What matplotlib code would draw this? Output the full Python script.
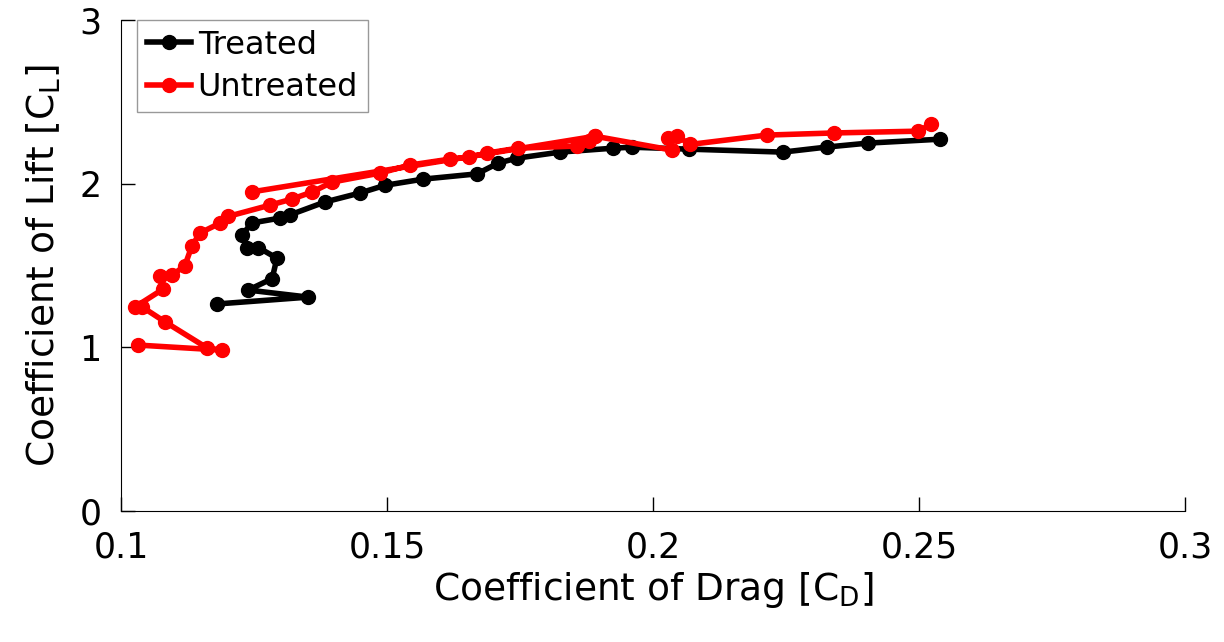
import numpy as np
import matplotlib
matplotlib.use("Agg")
import matplotlib.pyplot as plt

plt.rcParams['font.family'] = ['DejaVu Sans']

# Treated (black)
treated_cd = [0.1180, 0.1352, 0.1239, 0.1284, 0.1293, 0.1258, 0.1237, 0.1227, 0.1246,
              0.1299, 0.1318, 0.1383, 0.1449, 0.1496, 0.1568, 0.1669, 0.1709, 0.1744,
              0.1825, 0.1925, 0.1960, 0.2068, 0.2244, 0.2327, 0.2404, 0.2540]
treated_cl = [1.265, 1.307, 1.350, 1.420, 1.545, 1.610, 1.610, 1.686, 1.760,
              1.790, 1.810, 1.888, 1.943, 1.990, 2.028, 2.060, 2.126, 2.156,
              2.193, 2.217, 2.223, 2.211, 2.193, 2.224, 2.248, 2.272]

# Untreated (red) - nan splits the trace where it jumps back
untreated_cd = [0.1032, 0.1190, 0.1162, 0.1083, 0.1040, 0.1026, 0.1079, 0.1073, 0.1096,
                0.1120, 0.1133, 0.1148, 0.1186, 0.1201, 0.1280, 0.1321, 0.1359, 0.1397,
                0.1487, 0.1543, 0.1618, 0.1654, 0.1688, 0.1746, 0.1857, 0.1880, 0.1891,
                0.2036, 0.2028, 0.2045, 0.2070, 0.2214, 0.2340, 0.2498, 0.2523,
                np.nan, 0.1246, 0.1891]
untreated_cl = [1.014, 0.983, 0.996, 1.155, 1.246, 1.246, 1.356, 1.435, 1.440,
                1.500, 1.618, 1.698, 1.759, 1.800, 1.869, 1.906, 1.949, 2.010,
                2.065, 2.114, 2.150, 2.162, 2.187, 2.217, 2.230, 2.260, 2.290,
                2.205, 2.280, 2.290, 2.240, 2.297, 2.310, 2.321, 2.364,
                np.nan, 1.950, 2.290]

fig = plt.figure(figsize=(12.24, 6.42), dpi=100)
ax = fig.add_axes([0.0989, 0.204, 0.8693, 0.7648])

ax.plot(treated_cd, treated_cl, '-o', color='k', lw=4, ms=10, label='Treated')
ax.plot(untreated_cd, untreated_cl, '-o', color='#ff0000', lw=4, ms=10, label='Untreated')

ax.set_xlim(0.1, 0.3)
ax.set_ylim(0, 3)
ax.set_xticks([0.1, 0.15, 0.2, 0.25, 0.3])
ax.set_xticklabels(['0.1', '0.15', '0.2', '0.25', '0.3'])
ax.set_yticks([0, 1, 2, 3])
ax.tick_params(direction='in', length=10, width=1, labelsize=25)
ax.tick_params(axis='x', pad=14)
ax.tick_params(axis='y', pad=14)
ax.spines['top'].set_visible(False)
ax.spines['right'].set_visible(False)

ax.set_xlabel(r'Coefficient of Drag [C$_\mathregular{D}$]', fontsize=27, labelpad=4)
ax.set_ylabel(r'Coefficient of Lift [C$_\mathregular{L}$]', fontsize=27, labelpad=12)

leg = ax.legend(loc='upper left', fontsize=23, handlelength=1.4, handletextpad=0.2,
                borderaxespad=0.0, bbox_to_anchor=(0.015, 1.0), fancybox=False,
                borderpad=0.3, labelspacing=0.35)
leg.get_frame().set_edgecolor('#808080')
leg.get_frame().set_linewidth(1)

fig.savefig('out.png', dpi=100)
